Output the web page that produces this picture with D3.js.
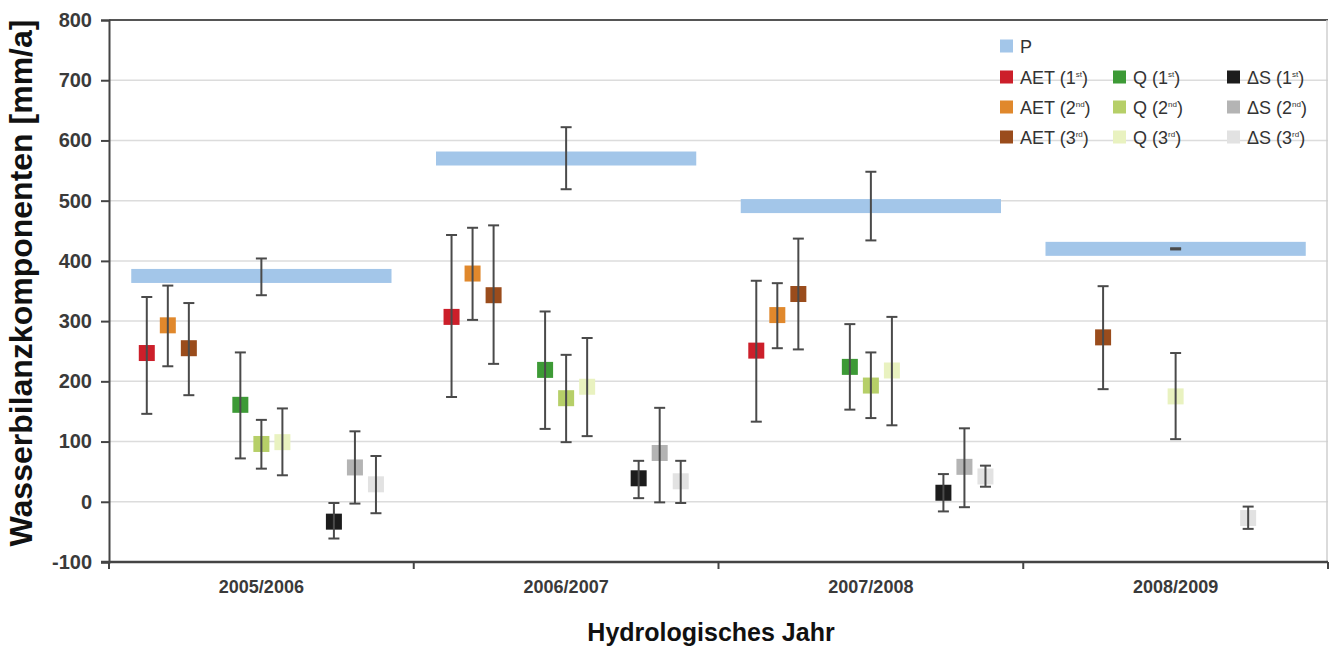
<!DOCTYPE html>
<html>
<head>
<meta charset="utf-8">
<script src="https://cdn.jsdelivr.net/npm/d3@7"></script>
<style>
  body { margin: 0; background: #fff; }
  text { font-family: Arial, "Liberation Sans", sans-serif; }
</style>
</head>
<body>
<svg id="chart" width="1331" height="648"></svg>
<script>
// hydrological years (categories) and y ticks
const years = ['2005/2006', '2006/2007', '2007/2008', '2008/2009'];
const yTicks = [-100, 0, 100, 200, 300, 400, 500, 600, 700, 800];

// precipitation P: mean and error range
const pMean = [375, 570, 491, 420];
const pLow  = [343, 519, 434, 419];
const pHigh = [404, 622, 548, 421];

// actual evapotranspiration
const aet1 = [247, 307, 251, null], aet1Low = [146, 174, 133, null], aet1High = [340, 443, 367, null];
const aet2 = [293, 379, 310, null], aet2Low = [225, 302, 255, null], aet2High = [359, 455, 363, null];
const aet3 = [255, 343, 345, 273],  aet3Low = [177, 229, 253, 187],  aet3High = [330, 459, 437, 358];

// runoff
const q1 = [161, 219, 224, null], q1Low = [72, 121, 153, null], q1High = [248, 316, 295, null];
const q2 = [96, 172, 193, null],  q2Low = [55, 99, 139, null],  q2High = [136, 244, 248, null];
const q3 = [99, 191, 218, 175],   q3Low = [44, 109, 127, 104],  q3High = [155, 272, 307, 247];

// storage change
const ds1 = [-33, 39, 15, null], ds1Low = [-61, 6, -16, null], ds1High = [-2, 68, 46, null];
const ds2 = [57, 81, 58, null],  ds2Low = [-3, -1, -9, null],  ds2High = [117, 156, 122, null];
const ds3 = [29, 34, 42, -27],   ds3Low = [-19, -2, 25, -45],  ds3High = [76, 68, 60, -8];

const components = ['AET', 'Q', '\u0394S'];
const suffix = ['st', 'nd', 'rd'];

const series = [
  { comp: 'AET', ord: 0, mean: aet1, low: aet1Low, high: aet1High },
  { comp: 'AET', ord: 1, mean: aet2, low: aet2Low, high: aet2High },
  { comp: 'AET', ord: 2, mean: aet3, low: aet3Low, high: aet3High },
  { comp: 'Q', ord: 0, mean: q1, low: q1Low, high: q1High },
  { comp: 'Q', ord: 1, mean: q2, low: q2Low, high: q2High },
  { comp: 'Q', ord: 2, mean: q3, low: q3Low, high: q3High },
  { comp: '\u0394S', ord: 0, mean: ds1, low: ds1Low, high: ds1High },
  { comp: '\u0394S', ord: 1, mean: ds2, low: ds2Low, high: ds2High },
  { comp: '\u0394S', ord: 2, mean: ds3, low: ds3Low, high: ds3High }
];

const colors = {
  'P': '#a3c6e9',
  'AET0': '#cc1f2a', 'AET1': '#e0882c', 'AET2': '#9a4c1c',
  'Q0': '#3d9a36', 'Q1': '#b6cf68', 'Q2': '#e9f2c0',
  '\u0394S0': '#1c1c1c', '\u0394S1': '#b4b4b4', '\u0394S2': '#e2e2e2'
};

// in the last year only the 3rd-order runs exist; the source draws them in other slots
const slotShift = { '2008/2009': { 'Q2': 1, '\u0394S2': 0 } };

const margin = { top: 20, right: 3, bottom: 86, left: 109 };
const width = 1331 - margin.left - margin.right;
const height = 648 - margin.top - margin.bottom;

const svg = d3.select('#chart');
const g = svg.append('g').attr('transform', 'translate(' + margin.left + ',' + margin.top + ')');

const y = d3.scaleLinear().domain([-100, 800]).range([height, 0]);
const x = d3.scaleBand().domain(years).range([0, width]);
const bw = x.bandwidth();
const groupX = d3.scalePoint().domain(components).range([-0.307, 0.307]);
const subX = d3.scalePoint().domain([0, 1, 2]).range([-0.069, 0.069]);

function xPos(year, comp, ord) {
  const shift = slotShift[year] && slotShift[year][comp + ord];
  const o = shift !== undefined ? shift : ord;
  return x(year) + bw / 2 + (groupX(comp) + subX(o)) * bw;
}

// gridlines
g.append('g').selectAll('line')
  .data(yTicks.filter(function (d) { return d > -100 && d < 800; }))
  .enter().append('line')
  .attr('x1', 0).attr('x2', width)
  .attr('y1', function (d) { return y(d); })
  .attr('y2', function (d) { return y(d); })
  .style('stroke', '#dcdcdc').style('stroke-width', 1.5);

// top and right frame
g.append('line').attr('x1', 0).attr('x2', width).attr('y1', y(800)).attr('y2', y(800))
  .style('stroke', '#555').style('stroke-width', 2);
g.append('line').attr('x1', width - 1).attr('x2', width - 1).attr('y1', y(800)).attr('y2', y(-100))
  .style('stroke', '#cfcfcf').style('stroke-width', 1.5);

// P bars
const pData = years.map(function (d, i) { return { year: d, mean: pMean[i], low: pLow[i], high: pHigh[i] }; });
g.append('g').selectAll('rect').data(pData).enter().append('rect')
  .attr('x', function (d) { return x(d.year) + bw / 2 - 0.427 * bw; })
  .attr('width', 0.854 * bw)
  .attr('y', function (d) { return y(d.mean) - 7; })
  .attr('height', 14)
  .style('fill', colors['P']);

// point data
const pts = [];
series.forEach(function (s) {
  years.forEach(function (yr, i) {
    if (s.mean[i] === null) return;
    pts.push({ cx: xPos(yr, s.comp, s.ord), mean: s.mean[i], low: s.low[i], high: s.high[i], key: s.comp + s.ord });
  });
});

// markers
g.append('g').selectAll('rect').data(pts).enter().append('rect')
  .attr('x', function (d) { return d.cx - 8; })
  .attr('y', function (d) { return y(d.mean) - 8; })
  .attr('width', 16).attr('height', 16)
  .style('fill', function (d) { return colors[d.key]; });

// error bars (for P and the points)
const errs = pts.concat(pData.map(function (d) {
  return { cx: x(d.year) + bw / 2, low: d.low, high: d.high };
}));
const eg = g.append('g').style('stroke', '#4a4a4a').style('stroke-width', 2);
eg.selectAll('.whisker').data(errs).enter().append('line')
  .attr('x1', function (d) { return d.cx; }).attr('x2', function (d) { return d.cx; })
  .attr('y1', function (d) { return y(d.low); }).attr('y2', function (d) { return y(d.high); });
eg.selectAll('.capHi').data(errs).enter().append('line')
  .attr('x1', function (d) { return d.cx - 5.5; }).attr('x2', function (d) { return d.cx + 5.5; })
  .attr('y1', function (d) { return y(d.high); }).attr('y2', function (d) { return y(d.high); });
eg.selectAll('.capLo').data(errs).enter().append('line')
  .attr('x1', function (d) { return d.cx - 5.5; }).attr('x2', function (d) { return d.cx + 5.5; })
  .attr('y1', function (d) { return y(d.low); }).attr('y2', function (d) { return y(d.low); });

// y axis (plain hyphen for negatives, as in the source)
const ya = g.append('g').call(d3.axisLeft(y).tickValues(yTicks).tickSize(8).tickPadding(9)
  .tickFormat(function (d) { return String(d); }));
ya.select('.domain').style('stroke', '#444').style('stroke-width', 2);
ya.selectAll('.tick line').style('stroke', '#444').style('stroke-width', 2);
ya.selectAll('text').style('font-size', '20px').style('font-weight', 'bold').style('fill', '#3a3a3a')
  .style('font-family', 'Arial, "Liberation Sans", sans-serif');

// x axis line with ticks at the year boundaries
const xa = g.append('g').attr('transform', 'translate(0,' + height + ')');
xa.append('line').attr('x1', -8).attr('x2', width).style('stroke', '#444').style('stroke-width', 2.5);
xa.selectAll('.bt').data(years.map(function (d) { return x(d); }).concat([width])).enter().append('line')
  .attr('x1', function (d) { return d; }).attr('x2', function (d) { return d; })
  .attr('y1', 0).attr('y2', 7)
  .style('stroke', '#444').style('stroke-width', 2);
xa.selectAll('text').data(years).enter().append('text')
  .attr('x', function (d) { return x(d) + bw / 2; })
  .attr('y', 31)
  .attr('text-anchor', 'middle')
  .style('font-size', '18px').style('font-weight', 'bold').style('fill', '#3a3a3a')
  .text(function (d) { return d; });

// axis titles
svg.append('text')
  .attr('x', 711).attr('y', 641)
  .attr('text-anchor', 'middle')
  .style('font-size', '25px').style('font-weight', 'bold').style('fill', '#111')
  .text('Hydrologisches Jahr');
svg.append('text')
  .attr('transform', 'translate(32,283) rotate(-90)')
  .attr('text-anchor', 'middle')
  .style('font-size', '32px').style('font-weight', 'bold').style('fill', '#111')
  .text('Wasserbilanzkomponenten [mm/a]');

// legend
const legRows = [46, 77, 107, 137];
const legCols = [1000, 1113, 1227];
const legend = svg.append('g');
const legItems = [{ key: 'P', label: 'P', sup: '', col: 0, row: 0 }];
series.forEach(function (s) {
  legItems.push({ key: s.comp + s.ord, label: s.comp + ' (' + (s.ord + 1), sup: suffix[s.ord],
    col: components.indexOf(s.comp), row: s.ord + 1 });
});
const li = legend.selectAll('g').data(legItems).enter().append('g')
  .attr('transform', function (d) { return 'translate(' + legCols[d.col] + ',' + legRows[d.row] + ')'; });
li.append('rect').attr('x', 0).attr('y', -6.5).attr('width', 13).attr('height', 13)
  .style('fill', function (d) { return colors[d.key]; });
const lt = li.append('text').attr('x', 20).attr('y', 6.5)
  .style('font-size', '18px').style('fill', '#333');
lt.append('tspan').text(function (d) { return d.label; });
lt.filter(function (d) { return d.sup; }).append('tspan')
  .attr('dy', -7).style('font-size', '8px').text(function (d) { return d.sup; });
lt.filter(function (d) { return d.sup; }).append('tspan')
  .attr('dy', 7).text(')');
</script>
</body>
</html>
